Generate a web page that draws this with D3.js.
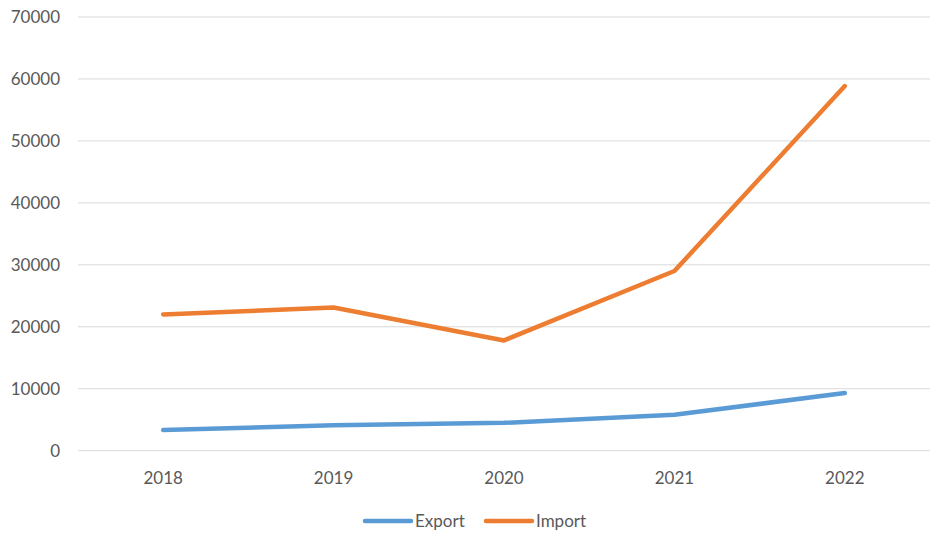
<!DOCTYPE html>
<html>
<head>
<meta charset="utf-8">
<script src="https://cdn.jsdelivr.net/npm/d3@7"></script>
<style>
  body { margin: 0; background: #fff; }
  svg text { font-family: Lato, "Open Sans", sans-serif; fill: #595959; }
</style>
</head>
<body>
<svg id="chart"></svg>
<script>
const years = ['2018', '2019', '2020', '2021', '2022'];
const exportValues = [3350, 4100, 4500, 5800, 9300];
const importValues = [22000, 23100, 17800, 29000, 58850];
const yTicks = [0, 10000, 20000, 30000, 40000, 50000, 60000, 70000];

const seriesList = [
    { name: 'Export', values: exportValues, color: '#5B9BD5' },
    { name: 'Import', values: importValues, color: '#ED7D31' }
];

const width = 945;
const height = 542;
const margin = { top: 17, right: 15, bottom: 92, left: 78 };

const svg = d3.select('#chart')
    .attr('width', width)
    .attr('height', height);

const x = d3.scaleBand()
    .domain(years)
    .range([margin.left, width - margin.right]);

const y = d3.scaleLinear()
    .domain([0, 70000])
    .range([height - margin.bottom + 0.7, margin.top]);

// gridlines
svg.append('g')
    .selectAll('line')
    .data(yTicks)
    .enter()
    .append('line')
    .attr('x1', margin.left)
    .attr('x2', width - margin.right)
    .attr('y1', d => y(d))
    .attr('y2', d => y(d))
    .attr('stroke', '#d9d9d9')
    .attr('stroke-width', 1);

// y labels
svg.append('g')
    .selectAll('text')
    .data(yTicks)
    .enter()
    .append('text')
    .attr('x', 60)
    .attr('y', d => y(d))
    .attr('dy', '0.35em')
    .attr('text-anchor', 'end')
    .style('font-size', '17px')
    .text(d => d);

// x labels
svg.append('g')
    .selectAll('text')
    .data(years)
    .enter()
    .append('text')
    .attr('x', d => x(d) + x.bandwidth() / 2)
    .attr('y', 478)
    .attr('dy', '0.35em')
    .attr('text-anchor', 'middle')
    .style('font-size', '17px')
    .text(d => d);

// lines
const line = d3.line()
    .x((d, i) => x(years[i]) + x.bandwidth() / 2)
    .y(d => y(d));

svg.append('g')
    .selectAll('path')
    .data(seriesList)
    .enter()
    .append('path')
    .attr('d', d => line(d.values))
    .attr('fill', 'none')
    .attr('stroke', d => d.color)
    .attr('stroke-width', 4.5)
    .attr('stroke-linecap', 'round')
    .attr('stroke-linejoin', 'round');

// legend
const legendX = [365, 486];
const legend = svg.append('g')
    .selectAll('g')
    .data(seriesList)
    .enter()
    .append('g')
    .attr('transform', (d, i) => `translate(${legendX[i]}, 521)`);

legend.append('line')
    .attr('x1', 0)
    .attr('x2', 46)
    .attr('stroke', d => d.color)
    .attr('stroke-width', 4.5)
    .attr('stroke-linecap', 'round');

legend.append('text')
    .attr('x', 50)
    .attr('dy', '0.35em')
    .style('font-size', '17px')
    .text(d => d.name);
</script>
</body>
</html>
